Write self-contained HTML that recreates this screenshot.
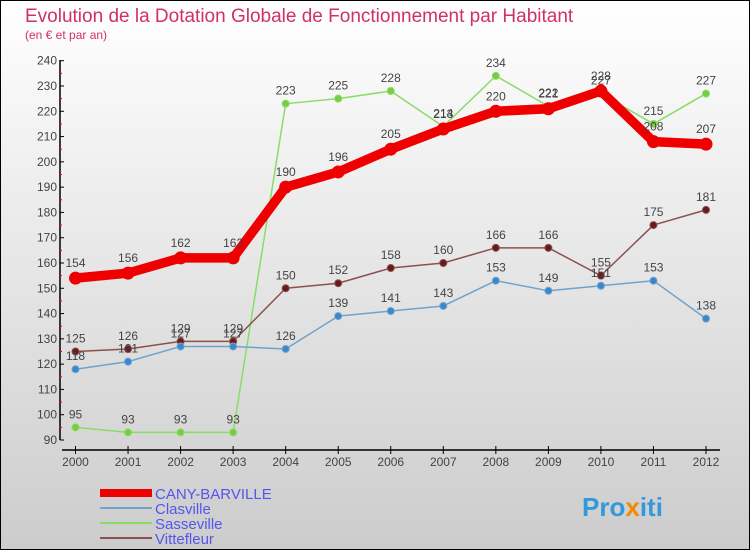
<!DOCTYPE html>
<html><head><meta charset="utf-8"><style>
body{margin:0;width:750px;height:550px;overflow:hidden;font-family:"Liberation Sans",sans-serif}
</style></head><body>
<svg width="750" height="550" xmlns="http://www.w3.org/2000/svg">
<defs><linearGradient id="bg" x1="0" y1="0" x2="0" y2="1"><stop offset="0" stop-color="#ffffff"/><stop offset="1" stop-color="#cccccc"/></linearGradient></defs>
<rect x="0.5" y="0.5" width="749" height="549" fill="url(#bg)" stroke="#000"/>
<text x="25" y="22" font-size="19" fill="#d0306a">Evolution de la Dotation Globale de Fonctionnement par Habitant</text>
<text x="25" y="39" font-size="12" fill="#d0306a">(en € et par an)</text>
<g id="axes"></g><g id="series"></g>
<g>
<rect x="100" y="489" width="52" height="8" fill="#e00"/>
<text x="155" y="499" font-size="15" fill="#5555ee">CANY-BARVILLE</text>
<line x1="100" y1="508" x2="152" y2="508" stroke="#6fa3cc" stroke-width="2"/>
<text x="155" y="514" font-size="15" fill="#5555ee">Clasville</text>
<line x1="100" y1="523" x2="152" y2="523" stroke="#88dd66" stroke-width="2"/>
<text x="155" y="529" font-size="15" fill="#5555ee">Sasseville</text>
<line x1="100" y1="538" x2="152" y2="538" stroke="#8b5050" stroke-width="2"/>
<text x="155" y="544" font-size="15" fill="#5555ee">Vittefleur</text>
</g>
<text x="582" y="516" font-size="26" font-weight="bold" fill="#3399dd">Pro<tspan fill="#f08a00">x</tspan>iti</text>
</svg>
<script>
const years=[2000,2001,2002,2003,2004,2005,2006,2007,2008,2009,2010,2011,2012];
const yTicks=[90,100,110,120,130,140,150,160,170,180,190,200,210,220,230,240];
const cany=[154,156,162,162,190,196,205,213,220,221,228,208,207];
const clasville=[118,121,127,127,126,139,141,143,153,149,151,153,138];
const sasseville=[95,93,93,93,223,225,228,214,234,222,227,215,227];
const vittefleur=[125,126,129,129,150,152,158,160,166,166,155,175,181];
const NS="http://www.w3.org/2000/svg";
const X=i=>75.5+i*(706-75.5)/12;
const Y=v=>440-(v-90)*(440-60.7)/150;
function mk(tag,attrs,parent){const e=document.createElementNS(NS,tag);for(const k in attrs)e.setAttribute(k,attrs[k]);parent.appendChild(e);return e;}
const ax=document.getElementById('axes');
const a1=mk('line',{x1:60,y1:60,x2:60,y2:440,stroke:'#000','stroke-width':1.5},ax);


yTicks.forEach(v=>{
  mk('line',{x1:60,y1:Y(v),x2:64,y2:Y(v),stroke:'#000'},ax);
  if(v<240)mk('line',{x1:59,y1:Y(v+5),x2:62,y2:Y(v+5),stroke:'#e00'},ax);
  const t=mk('text',{x:57,y:Y(v)+4,'font-size':12,'text-anchor':'end',fill:'#444'},ax);t.textContent=v;
  
  
});
const a2=mk('line',{x1:62,y1:450,x2:720,y2:450,stroke:'#000','stroke-width':1.5},ax);


years.forEach((yr,i)=>{
  mk('line',{x1:X(i),y1:446,x2:X(i),y2:454,stroke:'#000'},ax);
  const t=mk('text',{x:X(i),y:466,'font-size':12,'text-anchor':'middle',fill:'#444'},ax);t.textContent=yr;
  
  
});
const sg=document.getElementById('series');
function series(name,data,color,w,r,fill,off){
  const g=mk('g',{},sg);
  
  
  const pl=mk('polyline',{points:data.map((v,i)=>X(i)+','+Y(v)).join(' '),fill:'none',stroke:color,'stroke-width':w,'stroke-linejoin':'round'},g);
  
  
  data.forEach((v,i)=>{
    const c=mk('circle',{cx:X(i),cy:Y(v),r:r,fill:fill,stroke:color},g);
    
    
    const t=mk('text',{x:X(i),y:Y(v)-off,'font-size':12,'text-anchor':'middle',fill:'#444'},g);t.textContent=v;
    
    
  });
}
series('sasseville',sasseville,'#88dd66',1.5,3.5,'#77cc44',9);
series('vittefleur',vittefleur,'#8b5050',1.5,3.5,'#661a1a',9);
series('clasville',clasville,'#6fa3cc',1.5,3.5,'#3a88cc',9);
series('cany',cany,'#ee0000',9.5,6,'#ee0000',11);
</script>
</body></html>
